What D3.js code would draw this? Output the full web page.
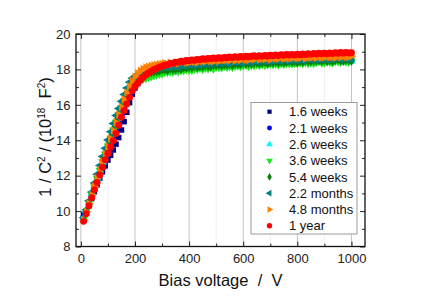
<!DOCTYPE html>
<meta charset="utf-8">
<style type="text/css">
	body { margin: 0; background: #fff; }
	svg { font-family: Arial, "Liberation Sans", sans-serif; }
	.grid-major { stroke: #c4c4c4; stroke-width: 1; }
	.grid-minor { stroke: #d0d0d0; stroke-width: 0.8; stroke-dasharray: 1,1.5; }
	.axis text { font-size: 13px; fill: #222; }
	.axis line { stroke: #222; }
	.axis path { display: none; }
	.title { font-size: 16.5px; fill: #111; white-space: pre; }
	.legend text { font-size: 13px; fill: #111; }
</style>
<svg width="424" height="296"></svg>
<script src="https://d3js.org/d3.v7.min.js"></script>
<script type="text/javascript">
	// bias voltage in V
	var voltage = [10,20,30,40,50,60,70,80,90,100,110,120,130,140,150,160,170,180,190,200,
		210,220,230,240,250,260,270,280,290,300,310,320,330,340,350,360,370,380,390,400,
		410,420,430,440,450,460,470,480,490,500,510,520,530,540,550,560,570,580,590,600,
		610,620,630,640,650,660,670,680,690,700,710,720,730,740,750,760,770,780,790,800,
		810,820,830,840,850,860,870,880,890,900,910,920,930,940,950,960,970,980,990,1000];

	// 1/C^2 in 1e18 F^-2
	var weeks16 = [9.82,9.95,10.3,10.7,11.1,11.48,11.86,12.22,12.55,12.88,13.15,13.45,13.78,14.15,14.58,15.05,15.58,16.12,16.6,16.95,
		17.2,17.38,17.5,17.6,17.67,17.72,17.76,17.8,17.83,
		17.86,17.86,17.94,17.90,17.95,17.92,17.98,18.02,17.98,18.02,18.08,18.01,18.08,18.07,18.12,18.09,18.14,18.10,18.14,18.20,
		18.16,18.19,18.15,18.22,18.19,18.25,18.23,18.23,18.27,18.26,18.30,18.26,18.32,18.26,18.31,18.27,18.33,18.37,18.32,18.30,
		18.36,18.35,18.30,18.39,18.37,18.35,18.42,18.37,18.36,18.41,18.36,18.44,18.41,18.43,18.40,18.48,18.41,18.45,18.44,18.48,
		18.44,18.43,18.49,18.48,18.52,18.46,18.51,18.49,18.53,18.46,18.55];
	var weeks21 = [9.65,10.0,10.42,10.85,11.28,11.7,12.12,12.52,12.92,13.32,13.72,14.12,14.52,14.95,15.38,15.8,16.22,16.6,16.95,17.2,
		17.38,17.5,17.58,17.64,17.69,17.73,17.77,17.8,17.83,
		17.90,17.85,17.90,17.90,17.95,17.90,17.99,17.98,17.98,18.05,18.02,18.06,18.03,18.08,18.11,18.08,18.11,18.16,18.09,18.16,
		18.15,18.20,18.16,18.21,18.17,18.21,18.26,18.22,18.25,18.21,18.28,18.25,18.31,18.28,18.28,18.32,18.31,18.35,18.30,18.37,
		18.31,18.36,18.31,18.38,18.41,18.36,18.35,18.40,18.39,18.34,18.43,18.42,18.39,18.46,18.41,18.40,18.45,18.40,18.47,18.45,
		18.46,18.44,18.51,18.44,18.48,18.47,18.51,18.47,18.45,18.52,18.50];
	var weeks26 = [9.58,10.02,10.5,10.95,11.4,11.85,12.3,12.75,13.18,13.6,14.02,14.45,14.88,15.3,15.72,16.12,16.5,16.85,17.12,17.32,
		17.45,17.55,17.62,17.68,17.72,17.76,17.8,17.83,17.86,
		17.89,17.89,17.94,17.91,17.91,17.99,17.98,18.04,17.99,18.04,18.04,18.08,18.03,18.12,18.10,18.10,18.17,18.13,18.17,18.14,
		18.19,18.22,18.18,18.21,18.26,18.19,18.25,18.24,18.29,18.25,18.30,18.26,18.29,18.34,18.30,18.33,18.28,18.35,18.32,18.37,
		18.35,18.35,18.38,18.37,18.40,18.36,18.43,18.36,18.41,18.36,18.43,18.47,18.41,18.40,18.45,18.44,18.39,18.48,18.46,18.44,
		18.50,18.45,18.44,18.49,18.44,18.51,18.48,18.50,18.47,18.55,18.47];
	var weeks36 = [9.52,9.98,10.45,10.92,11.38,11.85,12.3,12.78,13.22,13.68,14.12,14.58,15.02,15.45,15.85,16.22,16.55,16.82,17.02,17.2,
		17.3,17.38,17.45,17.5,17.55,17.6,17.65,17.7,17.74,
		17.76,17.85,17.84,17.86,17.85,17.94,17.88,17.94,17.93,17.99,17.96,17.95,18.02,18.02,18.07,18.01,18.06,18.05,18.10,18.04,
		18.13,18.11,18.10,18.17,18.13,18.17,18.13,18.18,18.21,18.17,18.20,18.25,18.18,18.23,18.22,18.27,18.23,18.28,18.23,18.27,
		18.32,18.28,18.30,18.26,18.32,18.29,18.35,18.32,18.32,18.35,18.34,18.38,18.33,18.40,18.33,18.38,18.34,18.40,18.44,18.38,
		18.37,18.43,18.41,18.37,18.45,18.44,18.41,18.48,18.43,18.42,18.47];
	var weeks54 = [9.55,10.0,10.48,10.95,11.42,11.9,12.38,12.85,13.3,13.75,14.2,14.65,15.1,15.52,15.95,16.35,16.72,17.05,17.3,17.45,
		17.56,17.64,17.7,17.75,17.8,17.84,17.87,17.9,17.93,
		17.98,17.98,17.96,18.04,18.01,18.01,18.07,18.03,18.12,18.10,18.13,18.11,18.19,18.13,18.18,18.17,18.22,18.18,18.18,18.25,
		18.24,18.29,18.23,18.28,18.27,18.31,18.24,18.33,18.31,18.30,18.37,18.33,18.36,18.32,18.37,18.40,18.35,18.38,18.43,18.35,
		18.41,18.40,18.44,18.40,18.44,18.40,18.43,18.48,18.43,18.46,18.41,18.48,18.44,18.50,18.47,18.47,18.50,18.49,18.52,18.48,
		18.54,18.47,18.52,18.47,18.54,18.57,18.51,18.50,18.55,18.54,18.49];
	var months22 = [9.62,10.08,10.58,11.08,11.58,12.08,12.58,13.08,13.55,14.02,14.48,14.95,15.4,15.8,16.2,16.58,16.95,17.28,17.5,17.62,
		17.72,17.8,17.86,17.91,17.95,17.99,18.02,18.05,18.08,
		18.12,18.17,18.12,18.12,18.18,18.17,18.14,18.24,18.23,18.22,18.29,18.25,18.24,18.30,18.25,18.33,18.31,18.33,18.31,18.39,
		18.32,18.37,18.35,18.40,18.36,18.35,18.41,18.40,18.45,18.38,18.43,18.42,18.45,18.39,18.47,18.45,18.44,18.50,18.46,18.49,
		18.45,18.50,18.52,18.48,18.50,18.55,18.47,18.53,18.51,18.56,18.51,18.56,18.51,18.54,18.59,18.55,18.57,18.53,18.59,18.56,
		18.61,18.58,18.58,18.61,18.60,18.63,18.58,18.65,18.58,18.63,18.58];
	var months48 = [9.5,9.95,10.42,10.9,11.38,11.85,12.32,12.78,13.22,13.65,14.1,14.55,15.0,15.45,15.88,16.3,16.7,17.05,17.35,17.58,
		17.78,17.92,18.02,18.1,18.15,18.2,18.23,18.26,18.29,
		18.30,18.34,18.30,18.38,18.32,18.37,18.33,18.40,18.45,18.40,18.39,18.45,18.44,18.39,18.48,18.47,18.45,18.52,18.47,18.46,
		18.52,18.47,18.54,18.52,18.53,18.51,18.59,18.51,18.56,18.54,18.59,18.55,18.53,18.60,18.58,18.63,18.56,18.61,18.59,18.63,
		18.56,18.64,18.62,18.60,18.67,18.62,18.65,18.61,18.65,18.68,18.63,18.65,18.70,18.62,18.68,18.66,18.70,18.66,18.70,18.66,
		18.69,18.73,18.69,18.71,18.66,18.73,18.69,18.74,18.71,18.71,18.74];
	var year1 = [9.42,9.85,10.3,10.75,11.2,11.62,12.05,12.48,12.9,13.25,13.62,13.98,14.38,14.85,15.3,15.68,16.05,16.42,16.8,17.02,
		17.22,17.4,17.55,17.68,17.8,17.9,17.98,18.05,18.12,
		18.18,18.24,18.27,18.33,18.35,18.40,18.41,18.46,18.45,18.50,18.49,18.53,18.52,18.56,18.55,18.60,18.57,18.62,18.60,18.64,
		18.62,18.66,18.63,18.68,18.66,18.70,18.67,18.71,18.69,18.73,18.70,18.75,18.72,18.74,18.77,18.73,18.78,18.75,18.79,18.76,
		18.80,18.77,18.81,18.78,18.83,18.80,18.84,18.81,18.85,18.82,18.86,18.83,18.87,18.84,18.89,18.85,18.90,18.87,18.91,18.88,
		18.92,18.89,18.93,18.90,18.94,18.91,18.95,18.92,18.95,18.93,18.94];

	var labels = ["1.6 weeks","2.1 weeks","2.6 weeks","3.6 weeks","5.4 weeks","2.2 months","4.8 months","1 year"];
	var xMajor = [0,200,400,600,800,1000],
		xMinor = [100,300,500,700,900],
		yMajor = [8,10,12,14,16,18,20],
		yMinor = [9,11,13,15,17,19];

	var series = [
		{name: labels[0], values: weeks16, color: "#000080", type: d3.symbolSquare, rot: 0, size: 30},
		{name: labels[1], values: weeks21, color: "#0000ff", type: d3.symbolCircle, rot: 0, size: 32},
		{name: labels[2], values: weeks26, color: "#00ffff", type: d3.symbolTriangle, rot: 0, size: 32},
		{name: labels[3], values: weeks36, color: "#1ee81e", type: d3.symbolTriangle, rot: 180, size: 32},
		{name: labels[4], values: weeks54, color: "#008000", type: d3.symbolDiamond, rot: 0, size: 30},
		{name: labels[5], values: months22, color: "#008080", type: d3.symbolTriangle, rot: -90, size: 32},
		{name: labels[6], values: months48, color: "#ff8000", type: d3.symbolTriangle, rot: 90, size: 32},
		{name: labels[7], values: year1, color: "#ff0000", type: d3.symbolCircle, rot: 0, size: 38}
	];

	var svg = d3.select("svg"),
		pl = 76, pr = 365, pt = 34, pb = 246.5;

	var x = d3.scaleLinear().domain([-18, 1050]).range([pl, pr]);
	var y = d3.scaleLinear().domain([8, 20]).range([pb, pt]);

	// grid
	var grid = svg.append("g");
	grid.selectAll("line.grid-major").data(xMajor).enter().append("line").attr("class","grid-major")
		.attr("x1", function(d){return x(d)}).attr("x2", function(d){return x(d)}).attr("y1", pt).attr("y2", pb);
	grid.selectAll("line.grid-minor").data(xMinor).enter().append("line").attr("class","grid-minor")
		.attr("x1", function(d){return x(d)}).attr("x2", function(d){return x(d)}).attr("y1", pt).attr("y2", pb);

	// data
	var sym = d3.symbol();
	series.forEach(function(s){
		svg.append("g").selectAll("path").data(s.values).enter().append("path")
			.attr("d", sym.type(s.type).size(s.size)())
			.attr("fill", s.color)
			.attr("transform", function(d, i){
				return "translate(" + x(voltage[i]) + "," + y(d) + ")rotate(" + s.rot + ")";
			});
	});

	// axes, ticks inward
	function noLabel(){ return ""; }
	svg.append("g").attr("class","axis").attr("transform","translate(0," + pb + ")")
		.call(d3.axisBottom(x).tickValues(xMajor).tickSize(-5).tickPadding(7).tickFormat(d3.format("d")));
	svg.append("g").attr("class","axis").attr("transform","translate(0," + pb + ")")
		.call(d3.axisBottom(x).tickValues(xMinor).tickSize(-3).tickFormat(noLabel));
	svg.append("g").attr("class","axis").attr("transform","translate(0," + pt + ")")
		.call(d3.axisTop(x).tickValues(xMajor).tickSize(-5).tickFormat(noLabel));
	svg.append("g").attr("class","axis").attr("transform","translate(0," + pt + ")")
		.call(d3.axisTop(x).tickValues(xMinor).tickSize(-3).tickFormat(noLabel));
	svg.append("g").attr("class","axis").attr("transform","translate(" + pl + ",0)")
		.call(d3.axisLeft(y).tickValues(yMajor).tickSize(-5).tickPadding(5.5).tickFormat(d3.format("d")));
	svg.append("g").attr("class","axis").attr("transform","translate(" + pl + ",0)")
		.call(d3.axisLeft(y).tickValues(yMinor).tickSize(-3).tickFormat(noLabel));
	svg.append("g").attr("class","axis").attr("transform","translate(" + pr + ",0)")
		.call(d3.axisRight(y).tickValues(yMajor).tickSize(-5).tickFormat(noLabel));
	svg.append("g").attr("class","axis").attr("transform","translate(" + pr + ",0)")
		.call(d3.axisRight(y).tickValues(yMinor).tickSize(-3).tickFormat(noLabel));

	svg.append("rect").attr("x", pl).attr("y", pt).attr("width", pr - pl).attr("height", pb - pt)
		.attr("fill","none").attr("stroke","#111").attr("stroke-width",1.3);

	// titles
	svg.append("text").attr("class","title").attr("x", (pl + pr) / 2).attr("y", 286)
		.attr("text-anchor","middle").text("Bias voltage  /  V");

	var yt = svg.append("text").attr("class","title").attr("text-anchor","middle")
		.attr("transform","translate(50.5,137)rotate(-90)");
	yt.append("tspan").text("1 / C");
	yt.append("tspan").attr("dy",-6).style("font-size","10px").text("2");
	yt.append("tspan").attr("dy",6).text(" / (10");
	yt.append("tspan").attr("dy",-6).style("font-size","10px").text("18");
	yt.append("tspan").attr("dy",6).text("  F");
	yt.append("tspan").attr("dy",-6).style("font-size","10px").text("2");
	yt.append("tspan").attr("dy",6).text(")");

	// legend
	var lg = svg.append("g").attr("class","legend");
	lg.append("rect").attr("x",251).attr("y",102.5).attr("width",106).attr("height",131.5)
		.attr("fill","#fff").attr("stroke","#9a9a9a").attr("stroke-width",1);
	var item = lg.selectAll("g.item").data(series).enter().append("g").attr("class","item")
		.attr("transform", function(d, i){ return "translate(0," + (111.7 + i * 16.3) + ")"; });
	item.append("path")
		.attr("d", function(d){ return sym.type(d.type).size(d.size * 0.6)(); })
		.attr("fill", function(d){ return d.color; })
		.attr("transform", function(d){ return "translate(269.5,0)rotate(" + d.rot + ")"; });
	item.append("text").attr("x", 289).attr("dy","0.36em").text(function(d){ return d.name; });
</script>
